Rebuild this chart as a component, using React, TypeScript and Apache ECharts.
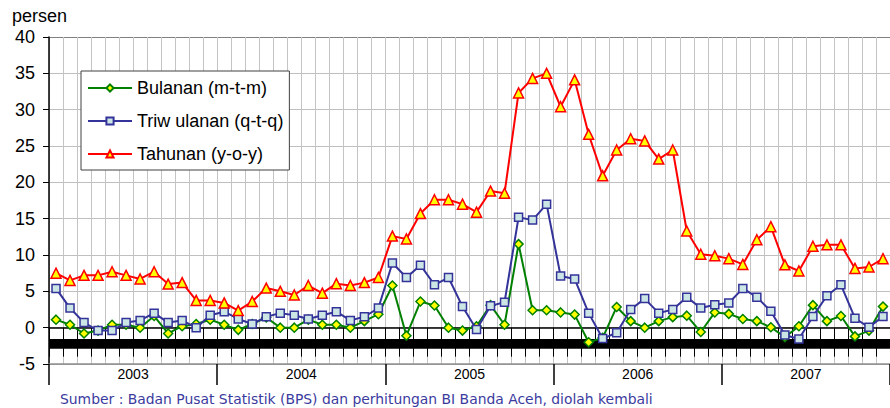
import React, { useEffect, useRef } from 'react';
import * as echarts from 'echarts';

const years = ['2003', '2004', '2005', '2006', '2007'];
const monthNames = ['Jan', 'Feb', 'Mar', 'Apr', 'Mei', 'Jun', 'Jul', 'Agu', 'Sep', 'Okt', 'Nov', 'Des'];
const months = years.flatMap((y) => monthNames.map((m) => `${m} ${y}`));

const seriesNames = ['Bulanan (m-t-m)', 'Triw ulanan (q-t-q)', 'Tahunan (y-o-y)'];

const bulanan = [
  1.1, 0.4, -0.8, -0.4, 0.4, 0.4, 0.0, 1.6, -0.8, 0.2, 0.5, 1.1,
  0.4, -0.3, 0.5, 1.4, 0.0, 0.0, 1.1, 0.4, 0.4, 0.0, 0.9, 1.85,
  5.8, -1.1, 3.6, 3.05, 0.0, -0.4, 0.2, 3.1, 0.4, 11.5, 2.4, 2.4,
  2.1, 1.8, -2.0, -1.4, 2.85, 0.9, 0.0, 0.9, 1.45, 1.65, -0.6, 2.1,
  1.9, 1.2, 0.9, 0.05, -1.3, 0.2, 3.1, 0.9, 1.6, -1.2, -0.4, 2.9,
];

const triwulanan = [
  5.4, 2.7, 0.7, -0.4, -0.4, 0.7, 1.0, 2.0, 0.7, 1.0, 0.0, 1.7,
  2.2, 1.2, 0.5, 1.5, 2.0, 1.7, 1.2, 1.7, 2.2, 1.0, 1.5, 2.7,
  8.9, 6.9, 8.6, 5.9, 6.9, 2.9, -0.25, 3.0, 3.5, 15.2, 14.8, 17.0,
  7.1, 6.7, 2.0, -1.5, -0.7, 2.5, 4.0, 2.0, 2.5, 4.2, 2.7, 3.15,
  3.4, 5.4, 4.2, 2.25, -1.0, -1.55, 1.55, 4.4, 5.9, 1.3, 0.05, 1.55,
];

const tahunan = [
  7.5, 6.5, 7.2, 7.2, 7.7, 7.2, 6.7, 7.7, 6.0, 6.2, 3.75, 3.75,
  3.4, 2.35, 3.6, 5.45, 5.0, 4.5, 5.8, 4.75, 6.05, 5.8, 6.2, 6.9,
  12.6, 12.2, 15.7, 17.6, 17.6, 17.0, 15.9, 18.8, 18.5, 32.3, 34.3, 35.0,
  30.4, 34.1, 26.6, 20.9, 24.45, 26.0, 25.7, 23.2, 24.45, 13.3, 10.1, 9.9,
  9.5, 8.7, 12.1, 13.9, 8.65, 7.8, 11.2, 11.4, 11.4, 8.15, 8.35, 9.5,
];

const yMin = -5;
const yMax = 40;
const yStep = 5;
const labelBand = [-1.55, -2.9];

const sourceText = 'Sumber : Badan Pusat Statistik (BPS) dan perhitungan BI Banda Aceh, diolah kembali';

const FONT = '"Liberation Sans", Arial, sans-serif';

export default function App() {
  const ref = useRef<HTMLDivElement>(null);

  useEffect(() => {
    if (!ref.current) return;
    const chart = echarts.init(ref.current, undefined, { renderer: 'svg' });
    const splitColors = ['#a0a0a0', '#c0c0c0', '#c0c0c0', '#c0c0c0', '#c0c0c0', '#c0c0c0', '#c0c0c0', '#c0c0c0', '#c0c0c0', '#808080'];
    const common = { type: 'line', showSymbol: true, showAllSymbol: true, clip: false };
    chart.setOption({
      animation: false,
      backgroundColor: '#fff',
      title: {
        text: 'persen',
        left: 12,
        top: 7,
        padding: 0,
        textStyle: { fontFamily: FONT, fontSize: 18, fontWeight: 'normal', color: '#000' },
      },
      legend: {
        orient: 'vertical',
        left: 81,
        top: 71,
        padding: [8, 6, 7, 6],
        itemGap: 15,
        itemWidth: 44,
        itemHeight: 9,
        backgroundColor: '#fff',
        borderColor: '#404040',
        borderWidth: 1,
        textStyle: { fontFamily: FONT, fontSize: 18, color: '#000' },
        data: seriesNames,
      },
      grid: { left: 49, right: -6, top: 37, bottom: 44, containLabel: false },
      xAxis: [
        {
          type: 'category',
          data: months,
          position: 'bottom',
          boundaryGap: true,
          axisLine: { show: true, onZero: true, lineStyle: { color: '#000', width: 1.5 } },
          axisTick: { show: true, interval: 0, length: 29, lineStyle: { color: '#000', width: 1 } },
          axisLabel: { show: false },
          splitLine: { show: true, interval: 0, lineStyle: { color: '#c4c4c4', width: 1 } },
        },
        {
          type: 'category',
          data: years,
          position: 'bottom',
          boundaryGap: true,
          axisLine: { show: true, onZero: false, lineStyle: { color: '#909090', width: 1.5 } },
          axisTick: { show: true, interval: 0, length: 21, lineStyle: { color: '#000', width: 1.5 } },
          axisLabel: { margin: 3, fontFamily: FONT, fontSize: 14, color: '#000' },
          splitLine: { show: false },
        },
      ],
      yAxis: {
        type: 'value',
        min: yMin,
        max: yMax,
        interval: yStep,
        axisLine: { show: true, onZero: false, lineStyle: { color: '#000', width: 1.5 } },
        axisTick: { show: true, length: 6, lineStyle: { color: '#000' } },
        axisLabel: { fontFamily: FONT, fontSize: 18, margin: 14, color: '#000' },
        splitLine: { show: true, lineStyle: { color: splitColors, width: 1 } },
      },
      series: [
        {
          ...common,
          name: seriesNames[0],
          data: bulanan,
          symbol: 'diamond',
          symbolSize: 9,
          lineStyle: { color: '#008000', width: 2 },
          itemStyle: { color: '#ffff00', borderColor: '#008000', borderWidth: 1.5 },
          z: 3,
          markArea: {
            silent: true,
            itemStyle: { color: '#000', opacity: 1 },
            data: [[{ yAxis: labelBand[0] }, { yAxis: labelBand[1] }]],
          },
        },
        {
          ...common,
          name: seriesNames[1],
          data: triwulanan,
          symbol: 'rect',
          symbolSize: 8,
          lineStyle: { color: '#333399', width: 2 },
          itemStyle: { color: '#cce6e6', borderColor: '#333399', borderWidth: 1.5 },
          z: 4,
        },
        {
          ...common,
          name: seriesNames[2],
          data: tahunan,
          symbol: 'triangle',
          symbolSize: 10,
          lineStyle: { color: '#ff0000', width: 2 },
          itemStyle: { color: '#ffff00', borderColor: '#ff0000', borderWidth: 1.5 },
          z: 5,
        },
      ],
      graphic: [
        {
          type: 'text',
          left: 60,
          top: 392,
          style: {
            text: sourceText,
            fontFamily: '"DejaVu Sans", sans-serif',
            fontSize: 13.9,
            fill: '#3b3b9e',
          },
        },
      ],
    });
    return () => chart.dispose();
  }, []);

  return (
    <div
      ref={ref}
      style={{ position: 'absolute', left: 0, top: 0, width: 890, height: 408 }}
    />
  );
}
